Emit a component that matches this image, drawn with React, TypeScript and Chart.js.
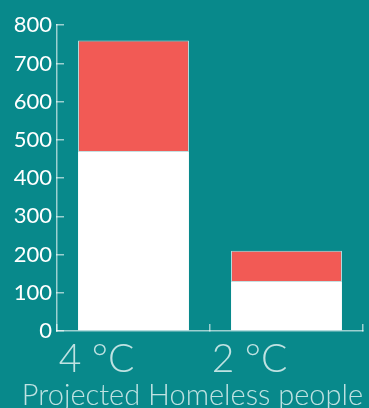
import React, { useEffect, useRef } from "react";
import { Chart, registerables } from "chart.js";

Chart.register(...registerables);

// Scenario categories and projected homeless people (millions)
const scenarios = ["4 °C", "2 °C"];
const baseHomeless = [470, 130];
const additionalHomeless = [290, 80];
const yTicks = [0, 100, 200, 300, 400, 500, 600, 700, 800];
const chartTitle = "Projected Homeless people";

const BG = "#08898b";
const RED = "#f25a55";
const AXIS = "rgba(255,255,255,0.6)";
const LIGHT_TEXT = "#bfe2e2";

export default function App() {
  const canvasRef = useRef<HTMLCanvasElement | null>(null);

  useEffect(() => {
    document.body.style.margin = "0";
    const canvas = canvasRef.current;
    if (!canvas) return;
    const chart = new Chart(canvas, {
      type: "bar",
      data: {
        labels: scenarios,
        datasets: [
          {
            data: baseHomeless,
            backgroundColor: "#ffffff",
            borderWidth: 0,
            categoryPercentage: 1,
            barPercentage: 0.725,
          },
          {
            data: additionalHomeless,
            backgroundColor: RED,
            borderColor: "rgba(255,255,255,0.75)",
            borderWidth: 1,
            categoryPercentage: 1,
            barPercentage: 0.725,
          },
        ],
      },
      options: {
        animation: false,
        responsive: false,
        maintainAspectRatio: false,
        layout: { padding: { top: 24, right: 6, left: 0, bottom: 0 } },
        plugins: {
          legend: { display: false },
          tooltip: { enabled: false },
          title: {
            display: true,
            text: chartTitle,
            position: "bottom",
            align: "end",
            color: LIGHT_TEXT,
            font: { family: "Lato", size: 29, weight: "300", lineHeight: 1 },
            padding: { top: 2, bottom: -2 },
          },
        },
        scales: {
          x: {
            stacked: true,
            border: { display: true, color: AXIS, width: 1.5 },
            grid: {
              display: true,
              drawOnChartArea: false,
              drawTicks: true,
              tickLength: -7,
              color: AXIS,
              lineWidth: 1.5,
            },
            ticks: {
              color: LIGHT_TEXT,
              font: { family: "Lato", size: 39, weight: "300" },
              labelOffset: -37,
              padding: 12,
              maxRotation: 0,
            },
            afterFit: (scale: any) => {
              scale.height = 48;
            },
          },
          y: {
            stacked: true,
            min: 0,
            max: 800,
            afterBuildTicks: (scale: any) => {
              scale.ticks = yTicks.map((v) => ({ value: v }));
            },
            border: { display: true, color: AXIS, width: 1.5 },
            grid: {
              display: true,
              drawOnChartArea: false,
              drawTicks: true,
              tickLength: -7,
              color: AXIS,
              lineWidth: 1.5,
            },
            ticks: {
              color: "#ffffff",
              font: { family: "Lato", size: 22 },
              padding: 12,
            },
            afterFit: (scale: any) => {
              scale.width = 57;
            },
          },
        },
      },
    });
    return () => chart.destroy();
  }, []);

  return (
    <div
      style={{
        position: "fixed",
        left: 0,
        top: 0,
        width: 369,
        height: 408,
        background: BG,
      }}
    >
      <canvas ref={canvasRef} width={369} height={408} />
    </div>
  );
}
